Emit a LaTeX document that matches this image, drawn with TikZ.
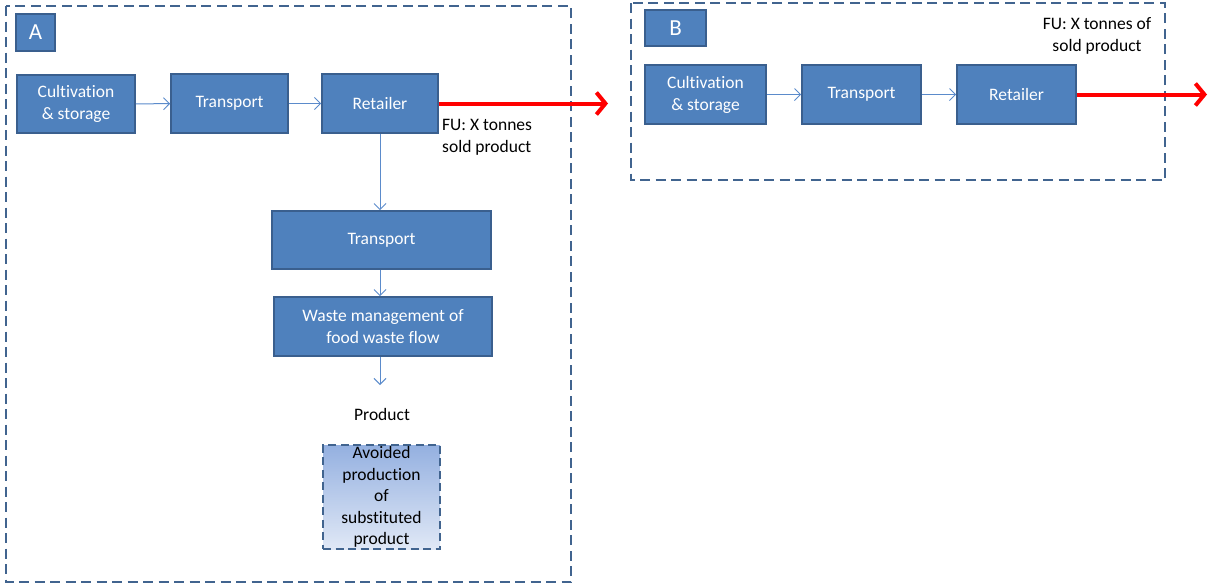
\documentclass[tikz,border=0pt]{standalone}
\usepackage{fontspec}
\setmainfont{Carlito}[Ligatures=NoCommon]
\usetikzlibrary{arrows.meta,positioning}

\definecolor{boxfill}{HTML}{4F81BD}
\definecolor{boxline}{HTML}{3A5F8E}
\definecolor{flowline}{HTML}{5B8BCB}
\definecolor{frameline}{HTML}{41648F}
\definecolor{shadetop}{HTML}{94B0E0}
\definecolor{shadebot}{HTML}{E0E8F6}

\begin{document}
\begin{tikzpicture}[x=1pt, y=-1pt,
        every node/.style={font=\fontsize{17.5}{22}\selectfont},
        box/.style={draw=boxline, line width=1.6pt, fill=boxfill, text=white,
            align=center, inner sep=0pt},
        tag/.style={box, font=\fontsize{23}{26}\selectfont},
        frame/.style={draw=frameline, line width=2.6pt, dash pattern=on 10pt off 5.5pt},
        flow/.style={draw=flowline, line width=1pt, -{Straight Barb[length=6pt,width=12pt]}},
        fu/.style={draw=red, line width=4pt, -{Straight Barb[length=9pt,width=22pt,line width=4pt]}},
        note/.style={align=left, text=black, inner sep=0pt}]
    \useasboundingbox (0,0) rectangle (1208,584);

    % system A
    \draw[frame] (6,6) rectangle (571,582);
    \node[tag, minimum width=39pt, minimum height=37pt] (labA) at (35.5,32.5) {A};
    \node[box, minimum width=118pt, minimum height=58pt] (cultA) at (76,104) {Cultivation\\\& storage};
    \node[box, minimum width=117pt, minimum height=59pt] (trA) at (229.5,103.5) {Transport};
    \node[box, minimum width=116pt, minimum height=59pt] (retA) at (380,103.5) {Retailer};
    \node[box, minimum width=219pt, minimum height=58pt] (trW) at (381.5,240) {Transport};
    \node[box, minimum width=218pt, minimum height=59pt] (waste) at (383,326.5) {Waste management of\\food waste flow};
    \node[note] (prod) at (382,414) {Product};
    \node[draw=frameline, line width=2.6pt, dash pattern=on 8pt off 4.5pt,
        top color=shadetop, bottom color=shadebot, align=center, inner sep=0pt,
        minimum width=117pt, minimum height=104pt,
        font=\fontsize{17.5}{21.5}\selectfont] (avoid) at (381.5,497)
        {Avoided\\production\\of\\substituted\\product};
    \node[note, anchor=west] (fuA) at (442,137) {FU: X tonnes\\sold product};
    \coordinate (outA) at (608,103.5);
    \coordinate (prodIn) at (380,385);

    \draw[flow] (cultA) -- (trA);
    \draw[flow] (trA) -- (retA);
    \draw[flow] (retA.south) -- (retA.south |- trW.north);
    \draw[flow] (trW.south -| retA.south) -- (retA.south |- waste.north);
    \draw[flow] (waste.south -| retA.south) -- (prodIn);
    \draw[fu] (retA.east) -- (outA);

    % system B
    \draw[frame] (631,3) rectangle (1165,180);
    \node[tag, minimum width=61pt, minimum height=36pt] (labB) at (675.5,28) {B};
    \node[box, minimum width=121pt, minimum height=59pt] (cultB) at (705.5,94.5) {Cultivation\\\& storage};
    \node[box, minimum width=119pt, minimum height=59pt] (trB) at (861.5,94.5) {Transport};
    \node[box, minimum width=119pt, minimum height=59pt] (retB) at (1016.5,94.5) {Retailer};
    \node[note, align=center] (fuB) at (1097,36) {FU: X tonnes of\\sold product};
    \coordinate (outB) at (1207,94.5);

    \draw[flow] (cultB) -- (trB);
    \draw[flow] (trB) -- (retB);
    \draw[fu] (retB.east) -- (outB);
\end{tikzpicture}
\end{document}
